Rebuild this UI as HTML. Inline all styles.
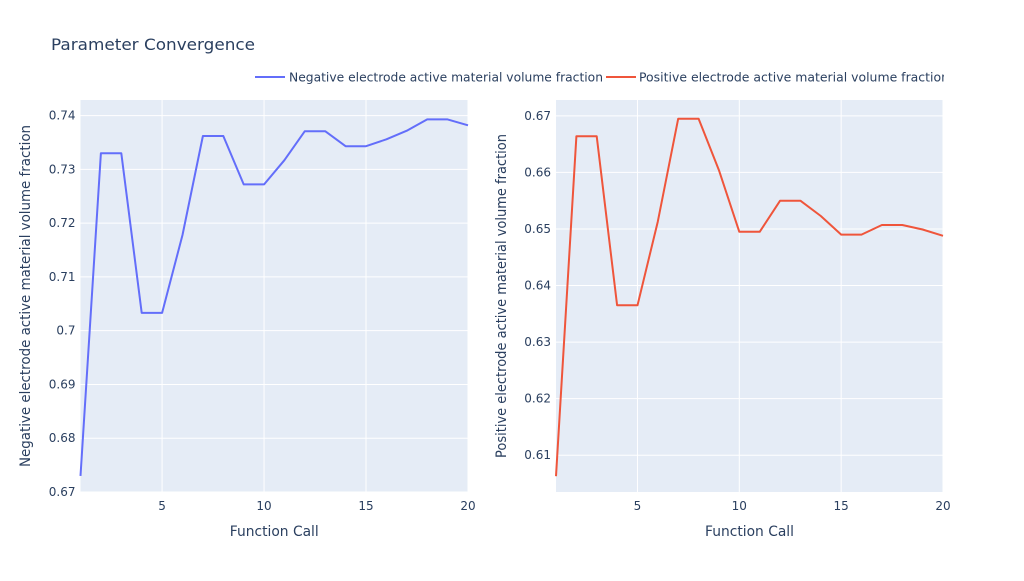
<!DOCTYPE html>
<html><head><meta charset="utf-8"><style>
html,body{margin:0;padding:0;background:#fff;}
svg text{font-family:"DejaVu Sans","Liberation Sans",sans-serif;fill:#2a3f5f;}
</style></head><body>
<svg id="chart" width="1024" height="576" xmlns="http://www.w3.org/2000/svg">
<defs><clipPath id="legclip"><rect x="0" y="60" width="944" height="40"/></clipPath></defs>
<text x="51" y="50" font-size="16" textLength="204" lengthAdjust="spacingAndGlyphs">Parameter Convergence</text>
<g clip-path="url(#legclip)">
<g>
<line x1="255" y1="77" x2="285" y2="77" stroke="#636efa" stroke-width="2"/>
<text x="289" y="81.5" font-size="12" textLength="314" lengthAdjust="spacingAndGlyphs">Negative electrode active material volume fraction</text></g>
<g>
<line x1="606" y1="77" x2="636" y2="77" stroke="#EF553B" stroke-width="2"/>
<text x="639" y="81.5" font-size="12" textLength="310" lengthAdjust="spacingAndGlyphs">Positive electrode active material volume fraction</text></g>
</g>
<g id="plots"></g>
</svg>
<script>
const xCalls = [1,2,3,4,5,6,7,8,9,10,11,12,13,14,15,16,17,18,19,20];
const negValues = [0.673,0.733,0.733,0.7033,0.7033,0.7178,0.7362,0.7362,0.7272,0.7272,0.7317,0.7371,0.7371,0.7343,0.7343,0.7356,0.7372,0.7393,0.7393,0.7382];
const posValues = [0.6063,0.6664,0.6664,0.6365,0.6365,0.6513,0.6695,0.6695,0.6604,0.6495,0.6495,0.655,0.655,0.6523,0.649,0.649,0.6507,0.6507,0.6499,0.6488];
const xTicks = [5,10,15,20];
const negTicks = [0.67,0.68,0.69,0.7,0.71,0.72,0.73,0.74];
const posTicks = [0.61,0.62,0.63,0.64,0.65,0.66,0.67];
const negTickLabels = ["0.67","0.68","0.69","0.7","0.71","0.72","0.73","0.74"];
const posTickLabels = ["0.61","0.62","0.63","0.64","0.65","0.66","0.67"];

const NS="http://www.w3.org/2000/svg";
const root=document.getElementById('plots');
function mk(tag,attrs,parent){const e=document.createElementNS(NS,tag);for(const k in attrs)e.setAttribute(k,attrs[k]);(parent||root).appendChild(e);return e;}

function panel(name,x0,x1,yMin,yMax,vals,ticks,labels,color,ytitle,ytx){
  const top=100,bot=492;
  const g=mk('g',{});
  
  
  const xs=v=>x0+(v-1)/(19)*(x1-x0);
  const ys=v=>bot-(v-yMin)/(yMax-yMin)*(bot-top);
  const bg=mk('rect',{x:x0,y:top,width:x1-x0,height:bot-top,fill:'#E5ECF6'},g);
  
  
  ticks.forEach((t,i)=>{const y=ys(t);
    mk('line',{x1:x0,x2:x1,y1:y,y2:y,stroke:'#fff','stroke-width':1},g);
    const tx=mk('text',{x:x0-5,y:y+4,'font-size':12,'text-anchor':'end'},g);tx.textContent=labels[i];
    
    
  });
  xTicks.forEach(t=>{const x=xs(t);
    mk('line',{x1:x,x2:x,y1:top,y2:bot,stroke:'#fff','stroke-width':1},g);
    const tx=mk('text',{x:x,y:bot+18,'font-size':12,'text-anchor':'middle'},g);tx.textContent=t;
    
    
  });
  const d=vals.map((v,i)=>(i?'L':'M')+xs(xCalls[i]).toFixed(1)+','+ys(v).toFixed(1)).join('');
  const p=mk('path',{d:d,fill:'none',stroke:color,'stroke-width':2,'stroke-linejoin':'round'},g);
  
  
  const xt=mk('text',{x:(x0+x1)/2,y:536,'font-size':14,'text-anchor':'middle',textLength:89,lengthAdjust:'spacingAndGlyphs'},g);xt.textContent='Function Call';
  
  
  const yt=mk('text',{x:0,y:0,'font-size':14,'text-anchor':'middle',textLength:ytx<100?342:324,lengthAdjust:'spacingAndGlyphs',transform:`translate(${ytx},296) rotate(-90)`},g);yt.textContent=ytitle;
  
  
}
panel('negative',80.5,468,0.67,0.7429,negValues,negTicks,negTickLabels,'#636efa','Negative electrode active material volume fraction',30);
panel('positive',556,943,0.6035,0.6728,posValues,posTicks,posTickLabels,'#EF553B','Positive electrode active material volume fraction',506);
</script>
</body></html>
